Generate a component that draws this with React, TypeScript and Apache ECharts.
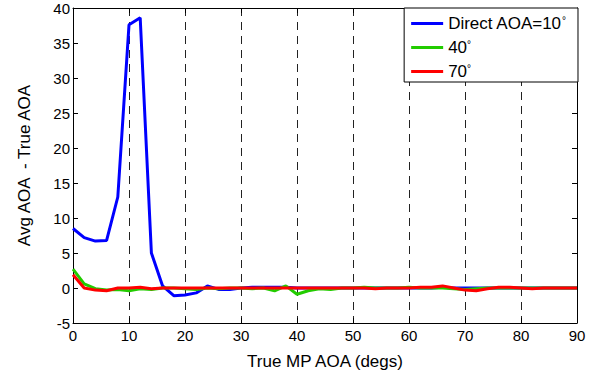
import React, { useEffect, useRef } from "react";
import * as echarts from "echarts";

const xValues = [0, 2, 4, 6, 8, 10, 12, 14, 16, 18, 20, 22, 24, 26, 28, 30, 32, 34, 36, 38, 40, 42, 44, 46, 48, 50, 52, 54, 56, 58, 60, 62, 64, 66, 68, 70, 72, 74, 76, 78, 80, 82, 84, 86, 88, 90];

const blueValues = [8.5, 7.2, 6.7, 6.8, 13.0, 37.6, 38.6, 5.0, 0.3, -1.1, -1.0, -0.7, 0.3, -0.2, -0.2, 0.0, 0.1, 0.1, 0.1, 0.1, 0.0, 0.0, 0.0, 0.0, 0.0, 0.0, 0.0, 0.0, 0.0, 0.0, 0.0, 0.0, 0.0, 0.1, 0.0, 0.0, 0.0, 0.0, 0.0, 0.0, 0.0, 0.0, 0.0, 0.0, 0.0, 0.0];

const greenValues = [2.7, 0.6, -0.1, -0.3, -0.2, -0.4, -0.1, -0.2, 0.0, 0.0, -0.1, -0.2, 0.0, -0.1, 0.0, 0.0, -0.1, 0.0, -0.4, 0.3, -0.9, -0.4, -0.1, -0.2, 0.0, 0.0, 0.1, 0.0, 0.0, 0.0, 0.1, 0.0, 0.0, 0.0, -0.1, -0.2, -0.1, 0.0, 0.0, 0.0, 0.0, 0.0, 0.0, 0.0, 0.0, 0.0];

const redValues = [1.9, 0.0, -0.3, -0.4, 0.0, 0.0, 0.1, -0.1, 0.0, 0.0, 0.0, 0.0, 0.0, 0.0, 0.0, 0.0, 0.0, 0.0, 0.0, 0.0, 0.0, 0.0, 0.0, 0.0, 0.0, 0.0, 0.0, -0.1, 0.0, 0.0, 0.0, 0.1, 0.1, 0.3, 0.0, -0.3, -0.4, -0.1, 0.1, 0.1, 0.0, -0.1, 0.0, 0.0, 0.0, 0.0];

const seriesNames = ["Direct AOA=10°", "40°", "70°"];
const seriesColors = ["#0000ff", "#22cc00", "#ff0000"];
const seriesValues = [blueValues, greenValues, redValues];

const FONT = "Liberation Sans";

export default function App() {
  const ref = useRef<HTMLDivElement>(null);
  useEffect(() => {
    if (!ref.current) return;
    const chart = echarts.init(ref.current, null, { renderer: "svg" });
    const tickStyle = { show: true, inside: true, length: 5, lineStyle: { color: "#000", width: 1 } };
    const axisLine = { show: true, onZero: false, lineStyle: { color: "#000", width: 1 } };
    chart.setOption({
      animation: false,
      backgroundColor: "#fff",
      textStyle: { fontFamily: FONT },
      grid: { left: 73, right: 20, top: 8, bottom: 50, containLabel: false },
      legend: {
        orient: "vertical",
        right: 19,
        top: 8,
        backgroundColor: "#fff",
        borderColor: "#000",
        borderWidth: 1,
        padding: [7, 12, 2, 7],
        itemGap: 7,
        itemWidth: 32,
        itemHeight: 3,
        icon: "rect",
        data: seriesNames,
        formatter: (name: string) => name.replace("°", "{s|°}"),
        textStyle: {
          color: "#000",
          fontSize: 17,
          fontFamily: FONT,
          rich: {
            s: { fontSize: 10, verticalAlign: "top", color: "#000", fontFamily: FONT },
          },
        },
      },
      xAxis: [
        {
          type: "value",
          min: 0,
          max: 90,
          interval: 10,
          position: "bottom",
          name: "True MP AOA (degs)",
          nameLocation: "middle",
          nameGap: 30,
          nameTextStyle: { color: "#000", fontSize: 17, fontFamily: FONT },
          axisLine,
          axisTick: tickStyle,
          axisLabel: { color: "#000", fontSize: 15, margin: 5, fontFamily: FONT },
          splitLine: {
            show: true,
            showMinLine: false,
            showMaxLine: false,
            lineStyle: { color: "#222", type: [8, 6], width: 1 },
          },
        },
        {
          type: "value",
          min: 0,
          max: 90,
          interval: 10,
          position: "top",
          axisLine,
          axisTick: tickStyle,
          axisLabel: { show: false },
          splitLine: { show: false },
        },
      ],
      yAxis: [
        {
          type: "value",
          min: -5,
          max: 40,
          interval: 5,
          position: "left",
          name: "Avg AOA  - True AOA",
          nameLocation: "middle",
          nameGap: 40,
          nameTextStyle: { color: "#000", fontSize: 17, fontFamily: FONT },
          axisLine,
          axisTick: tickStyle,
          axisLabel: { color: "#000", fontSize: 15, margin: 3, fontFamily: FONT },
          splitLine: { show: false },
        },
        {
          type: "value",
          min: -5,
          max: 40,
          interval: 5,
          position: "right",
          axisLine,
          axisTick: tickStyle,
          axisLabel: { show: false },
          splitLine: { show: false },
        },
      ],
      series: seriesNames.map((name, k) => ({
        name,
        type: "line",
        xAxisIndex: 0,
        yAxisIndex: 0,
        symbol: "none",
        showSymbol: false,
        color: seriesColors[k],
        itemStyle: { color: seriesColors[k] },
        lineStyle: { color: seriesColors[k], width: 3 },
        data: xValues.map((x, i) => [x, seriesValues[k][i]]),
      })),
    });
    return () => chart.dispose();
  }, []);
  return <div ref={ref} style={{ position: "absolute", left: 0, top: 0, width: 597, height: 375 }} />;
}
